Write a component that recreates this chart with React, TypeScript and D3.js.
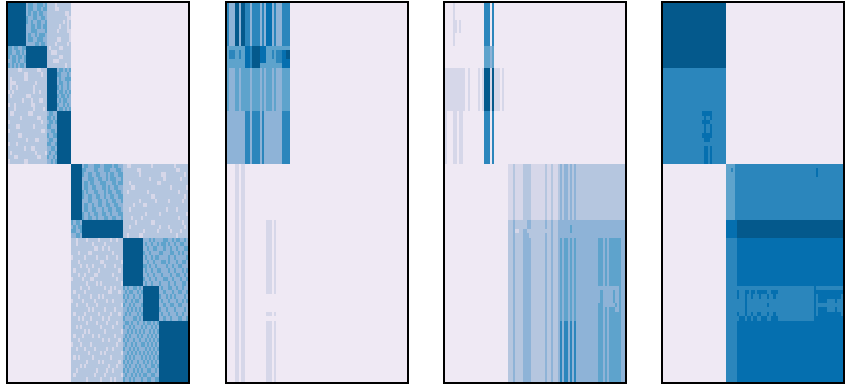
import React from 'react';
import * as d3 from 'd3';

// grid size of every heatmap
const N_ROWS = 87;
const N_COLS = 88;

// discrete colour levels, background first
const levelColors = ['#efe9f4', '#d6d7e9', '#b5c6df', '#8eb3d7', '#5ea3cc', '#2b86bc', '#056faf', '#04598c'];

// [rowStart, rowEnd, colStart, colEnd, level], painted in order
const panelOneBlocks = [
  [0, 10, 0, 9, 7], [0, 10, 9, 19, 3], [0, 10, 19, 31, 2],
  [10, 15, 0, 9, 3], [10, 15, 9, 19, 7], [10, 15, 19, 31, 2],
  [15, 25, 0, 19, 2], [15, 25, 19, 24, 7], [15, 25, 24, 31, 3],
  [25, 37, 0, 19, 2], [25, 37, 19, 24, 3], [25, 37, 24, 31, 7],
  [37, 50, 31, 36, 7], [37, 50, 36, 56, 3], [37, 50, 56, 88, 2],
  [50, 54, 31, 36, 3], [50, 54, 36, 56, 7], [50, 54, 56, 88, 2],
  [54, 65, 31, 56, 2], [54, 65, 56, 66, 7], [54, 65, 66, 88, 3],
  [65, 73, 31, 56, 2], [65, 73, 56, 66, 3], [65, 73, 66, 74, 7], [65, 73, 74, 88, 3],
  [73, 87, 31, 56, 2], [73, 87, 56, 74, 3], [73, 87, 74, 88, 7],
];

// cells per row in panel one that sit one step away from their block
const panelOneSpeckle = [
  [10, 11, 14, 15, 16, 18, 23],
  [10, 11, 14, 15, 17, 18, 23, 24],
  [10, 12, 13, 15, 16, 28, 29],
  [9, 12, 13, 16, 17, 29, 30],
  [9, 11, 14, 15, 18, 27, 29],
  [11, 12, 14, 15, 17, 18, 25, 29],
  [11, 12, 13, 18, 24, 29, 30],
  [10, 13, 15, 16, 17, 30],
  [10, 11, 14, 15, 16, 24, 25, 30],
  [13, 14, 16, 17, 23, 29],
  [0, 1, 3, 4, 7, 8, 20, 25, 26],
  [0, 1, 4, 5, 7, 21, 22, 23],
  [0, 2, 3, 5, 6, 8, 25, 26],
  [2, 3, 5, 8, 22, 23, 24],
  [0, 2, 4, 6, 7, 28],
  [5, 6, 14, 15, 25, 26, 28, 30],
  [8, 9, 16, 24, 25, 29],
  [1, 8, 9, 25, 28, 29, 30],
  [1, 2, 3, 13, 25, 26, 29],
  [1, 4, 12, 24, 26, 29],
  [0, 2, 12, 15, 25, 26, 28, 30],
  [1, 9, 10, 24, 26, 27, 29],
  [7, 11, 15, 16, 25, 27, 28],
  [0, 3, 11, 12, 24, 27, 29],
  [3, 12, 17, 25, 26, 28, 30],
  [1, 2, 10, 11, 20, 21],
  [6, 14, 15, 19, 20, 22],
  [0, 16, 21, 20, 23],
  [4, 5, 12, 19, 20],
  [0, 16, 17, 21, 22],
  [5, 6, 19, 22, 23],
  [9, 13, 14, 20, 21],
  [0, 4, 19, 20, 23],
  [8, 11, 12, 21, 22],
  [1, 13, 18, 20, 23],
  [3, 4, 14, 15, 19, 22],
  [0, 8, 9, 21, 23],
  [37, 38, 42, 43, 44, 47, 48, 49, 50, 52, 53, 58, 59, 70, 81],
  [36, 37, 42, 43, 47, 48, 49, 53, 54, 63, 64, 82, 83],
  [36, 39, 40, 43, 44, 48, 50, 51, 54, 55, 64, 75, 76, 86],
  [39, 40, 41, 44, 45, 48, 50, 51, 52, 55, 69, 76, 84],
  [37, 38, 40, 41, 45, 46, 47, 51, 52, 54, 55, 59, 73, 74],
  [37, 38, 41, 42, 46, 47, 49, 52, 53, 60, 61, 79, 87],
  [36, 38, 42, 43, 47, 49, 50, 53, 54, 58, 68, 83],
  [36, 39, 40, 43, 44, 47, 50, 51, 54, 55, 70, 71, 86],
  [39, 40, 44, 45, 48, 51, 52, 55, 64, 72, 78, 85],
  [37, 38, 41, 44, 45, 48, 49, 52, 53, 61, 66, 67],
  [37, 38, 41, 42, 46, 49, 50, 53, 54, 59, 77, 82],
  [36, 39, 42, 43, 46, 47, 50, 54, 55, 67, 74, 87],
  [36, 39, 40, 43, 47, 48, 51, 52, 55, 60, 65, 83],
  [31, 33, 34, 62, 70, 71, 85],
  [32, 34, 35, 59, 74, 78, 86],
  [31, 32, 35, 66, 73, 79, 84],
  [33, 34, 58, 64, 65, 82],
  [33, 38, 44, 50, 53, 69, 71, 76, 77, 80, 82, 83, 86],
  [33, 41, 47, 67, 70, 73, 75, 76, 78, 81, 84, 85],
  [42, 43, 46, 49, 68, 71, 72, 76, 79, 82, 86, 87],
  [34, 39, 40, 51, 66, 69, 74, 75, 79, 80, 83, 85],
  [31, 37, 43, 48, 53, 67, 70, 72, 73, 78, 81, 87],
  [34, 45, 46, 55, 68, 71, 75, 76, 78, 82, 85, 86],
  [35, 38, 41, 47, 52, 66, 67, 69, 72, 77, 80, 83, 84],
  [32, 39, 44, 54, 67, 70, 73, 74, 78, 81, 85, 87],
  [34, 37, 42, 43, 51, 68, 71, 75, 79, 82, 83, 86],
  [31, 36, 40, 41, 53, 66, 69, 72, 76, 77, 80, 84, 87],
  [38, 43, 45, 55, 67, 70, 74, 78, 81, 85, 86],
  [35, 39, 47, 50, 52, 56, 58, 61, 62, 64, 75, 78, 79, 82, 85],
  [32, 37, 49, 50, 54, 57, 59, 60, 63, 65, 76, 80, 83, 84, 87],
  [34, 40, 44, 46, 56, 58, 61, 64, 74, 77, 79, 81, 86],
  [31, 36, 42, 48, 51, 57, 60, 62, 63, 75, 78, 82, 85, 87],
  [33, 38, 43, 55, 56, 59, 61, 65, 76, 79, 80, 83, 84],
  [39, 41, 47, 52, 58, 60, 62, 64, 74, 77, 81, 86],
  [32, 37, 44, 50, 54, 57, 59, 63, 65, 75, 78, 82, 85],
  [34, 36, 40, 46, 49, 56, 61, 62, 64, 76, 79, 83, 84, 87],
  [38, 43, 48, 53, 57, 58, 60, 63, 66, 68, 69, 71, 73],
  [33, 35, 45, 51, 56, 59, 61, 65, 67, 70, 72],
  [37, 39, 47, 55, 58, 60, 62, 64, 66, 69, 71, 73],
  [32, 36, 41, 44, 52, 57, 59, 63, 65, 68, 70, 72],
  [34, 46, 49, 54, 56, 58, 61, 64, 67, 69, 71, 73],
  [31, 35, 40, 53, 57, 60, 62, 65, 66, 68, 70, 72],
  [33, 37, 42, 48, 51, 56, 59, 61, 63, 67, 69, 71, 73],
  [39, 45, 47, 55, 58, 60, 62, 64, 66, 68, 70, 72],
  [32, 34, 41, 50, 57, 59, 61, 65, 67, 69, 71, 73],
  [38, 44, 46, 54, 56, 58, 60, 63, 66, 68, 70, 72],
  [35, 37, 49, 53, 57, 59, 62, 64, 67, 70, 71, 73],
  [33, 43, 48, 51, 56, 58, 61, 63, 65, 68, 69, 72],
  [32, 42, 47, 55, 57, 60, 62, 64, 66, 67, 70, 71],
  [38, 45, 50, 52, 56, 59, 61, 65, 68, 69, 72, 73],
];

// panel two: stripes follow the same row groups as panel one
const panelTwoBlocks = [
  [0, 10, 0, 31, 3],
  [0, 10, 0, 1, 5], [0, 10, 4, 6, 7], [0, 10, 7, 9, 7], [0, 10, 9, 11, 5], [0, 10, 12, 16, 5],
  [0, 10, 17, 18, 5], [0, 10, 19, 22, 6], [0, 10, 23, 24, 5], [0, 10, 27, 31, 5],
  [10, 15, 0, 31, 4],
  [11, 13, 1, 4, 5], [11, 13, 6, 7, 5], [10, 15, 9, 11, 6], [10, 15, 11, 12, 5], [10, 15, 12, 16, 7],
  [10, 14, 16, 19, 6], [11, 13, 22, 23, 5], [11, 14, 24, 27, 5], [11, 15, 27, 31, 6], [11, 13, 29, 31, 7],
  [15, 25, 0, 31, 4],
  [15, 25, 1, 4, 3], [15, 25, 6, 7, 3], [15, 25, 11, 12, 3], [15, 25, 16, 17, 3], [15, 25, 18, 19, 3],
  [15, 25, 22, 23, 3], [15, 25, 24, 27, 3],
  [25, 37, 0, 31, 3],
  [25, 37, 9, 11, 5], [25, 37, 12, 16, 5], [25, 37, 17, 18, 5], [25, 37, 27, 31, 5],
  [37, 87, 4, 6, 1], [37, 87, 7, 9, 1],
  [50, 67, 19, 22, 1], [50, 67, 23, 24, 1], [71, 72, 19, 22, 1], [71, 72, 23, 24, 1],
  [73, 87, 19, 22, 1], [73, 87, 23, 24, 1],
];

// panel three, upper left group and lower right group
const panelThreeBlocks = [
  [0, 10, 4, 5, 1], [4, 6, 5, 6, 1], [6, 7, 5, 6, 1], [4, 6, 7, 8, 1], [6, 7, 7, 8, 1],
  [0, 10, 19, 22, 5], [0, 10, 23, 24, 5],
  [10, 15, 19, 22, 4], [10, 15, 22, 23, 3], [10, 15, 23, 24, 4],
  [15, 25, 0, 10, 1], [15, 25, 11, 12, 1], [15, 25, 16, 17, 1], [15, 25, 18, 19, 1], [15, 25, 22, 23, 1],
  [15, 25, 24, 27, 1], [15, 25, 28, 29, 1], [15, 25, 19, 22, 7], [15, 25, 23, 24, 7],
  [25, 37, 0, 1, 1], [25, 37, 4, 6, 1], [25, 37, 7, 9, 1], [25, 37, 19, 22, 5], [25, 37, 23, 24, 5],
  [37, 50, 31, 56, 1], [37, 50, 56, 88, 2],
  [50, 54, 31, 56, 2], [50, 54, 56, 88, 3],
  [54, 87, 31, 56, 2], [54, 87, 56, 88, 3],
];

const lowerLeftStripes = [33, 38, 39, 40, 41, 49, 52, 55];
const lowerMidStripes = [56, 58, 59, 61, 63];
const lowerRightStripes = [75, 76, 78, 80, 81, 82, 83, 84, 85];

// [row, colStart, colEnd, level] holes inside the lower right stripes
const panelThreeHoles = [
  [50, 36, 40, 2], [50, 42, 49, 2], [51, 38, 40, 2], [51, 42, 44, 2], [52, 34, 36, 1], [52, 40, 50, 2],
  [53, 41, 44, 2], [51, 61, 62, 4], [52, 61, 62, 4],
  [65, 75, 85, 3], [66, 75, 76, 3], [67, 75, 76, 3], [68, 75, 76, 3], [66, 78, 79, 3], [67, 78, 79, 3],
  [68, 78, 79, 3], [66, 80, 82, 3], [67, 80, 82, 3], [68, 80, 82, 3], [69, 77, 83, 3], [66, 83, 85, 3],
  [67, 83, 85, 3], [68, 83, 85, 3], [69, 84, 85, 3], [70, 83, 85, 3],
];

const panelFourBlocks = [
  [0, 15, 0, 31, 7], [15, 37, 0, 31, 5],
  [25, 26, 19, 24, 6], [26, 27, 20, 21, 6], [26, 27, 23, 24, 6], [27, 28, 19, 23, 6], [28, 30, 20, 21, 6],
  [28, 30, 23, 24, 6], [30, 31, 19, 24, 6], [31, 32, 20, 23, 6], [33, 37, 20, 22, 6], [33, 37, 23, 24, 6],
  [37, 50, 31, 35, 4], [37, 50, 35, 88, 5], [40, 49, 34, 35, 4], [38, 39, 33, 34, 5], [38, 40, 75, 76, 6],
  [50, 54, 31, 36, 6], [50, 54, 36, 88, 7],
  [54, 87, 31, 36, 5], [54, 65, 36, 88, 6], [65, 73, 36, 88, 5], [73, 87, 36, 88, 6],
  [65, 73, 74, 75, 6], [66, 73, 75, 88, 6],
  [67, 72, 75, 76, 5], [67, 72, 87, 88, 5], [68, 71, 80, 84, 5], [68, 71, 85, 87, 5], [69, 70, 76, 87, 5],
];

// [row, colStart, colEnd] cells of the darker level in panel four's mixed band
const panelFourDark = [
  [66, 36, 37], [66, 40, 42], [66, 43, 45], [66, 46, 51], [66, 53, 56],
  [67, 36, 37], [67, 40, 41], [67, 43, 44], [67, 47, 48], [67, 51, 52], [67, 54, 55],
  [68, 40, 41], [69, 40, 41], [69, 51, 52], [70, 40, 41],
  [71, 36, 37], [71, 40, 41], [71, 43, 44], [71, 46, 48], [71, 51, 52], [71, 54, 55],
  [72, 37, 40], [72, 41, 43], [72, 44, 46], [72, 48, 51], [72, 53, 56],
];

const panelLeft = [8, 227, 445, 663];

type Grid = number[][];

const paint = (grid: Grid, blocks: number[][]) => {
  blocks.forEach(([r0, r1, c0, c1, level]) => {
    for (let r = r0; r < r1; r++) for (let c = c0; c < c1; c++) grid[r][c] = level;
  });
};

const emptyGrid = (): Grid => d3.range(N_ROWS).map(() => d3.range(N_COLS).map(() => 0));

const buildPanelOne = () => {
  const grid = emptyGrid();
  paint(grid, panelOneBlocks);
  panelOneSpeckle.forEach((cols, r) => {
    cols.forEach((c) => {
      if (grid[r][c] === 2) grid[r][c] = 1;
      else if (grid[r][c] === 3) grid[r][c] = 4;
    });
  });
  return grid;
};

const buildPanelTwo = () => {
  const grid = emptyGrid();
  paint(grid, panelTwoBlocks);
  return grid;
};

const buildPanelThree = () => {
  const grid = emptyGrid();
  paint(grid, panelThreeBlocks);
  for (let r = 37; r < N_ROWS; r++) {
    lowerLeftStripes.forEach((c) => { grid[r][c] += 1; });
    lowerMidStripes.forEach((c) => { grid[r][c] += r < 50 ? 1 : r < 54 ? 0 : r < 73 ? 1 : 2; });
    if (r >= 54) lowerRightStripes.forEach((c) => { grid[r][c] += 1; });
  }
  panelThreeHoles.forEach(([r, c0, c1, level]) => {
    for (let c = c0; c < c1; c++) grid[r][c] = level;
  });
  return grid;
};

const buildPanelFour = () => {
  const grid = emptyGrid();
  paint(grid, panelFourBlocks);
  panelFourDark.forEach(([r, c0, c1]) => {
    for (let c = c0; c < c1; c++) grid[r][c] = 6;
  });
  return grid;
};

const Heatmap = ({ grid, left }: { grid: Grid; left: number }) => {
  const x = d3.scaleLinear().domain([0, N_COLS]).range([left, left + 180]);
  const y = d3.scaleLinear().domain([0, N_ROWS]).range([3, 382]);
  const color = d3.scaleOrdinal<number, string>().domain(levelColors.map((_, i) => i)).range(levelColors);

  const runs: { r: number; c0: number; c1: number; level: number }[] = [];
  grid.forEach((row, r) => {
    let c0 = 0;
    for (let c = 1; c <= N_COLS; c++) {
      if (c === N_COLS || row[c] !== row[c0]) {
        runs.push({ r, c0, c1: c, level: row[c0] });
        c0 = c;
      }
    }
  });

  return (
    <g shapeRendering="crispEdges">
      {runs.map((d) => (
        <rect
          key={`${d.r}-${d.c0}`}
          x={Math.round(x(d.c0))}
          y={Math.floor(y(d.r))}
          width={Math.round(x(d.c1)) - Math.round(x(d.c0))}
          height={Math.floor(y(d.r + 1)) - Math.floor(y(d.r))}
          fill={color(d.level)}
        />
      ))}
      <rect x={left - 1} y={2} width={182} height={381} fill="none" stroke="#000" strokeWidth={2} />
    </g>
  );
};

export default function App() {
  const grids = [buildPanelOne(), buildPanelTwo(), buildPanelThree(), buildPanelFour()];
  return (
    <svg width={851} height={390} style={{ position: 'absolute', left: 0, top: 0, background: '#fff' }}>
      {grids.map((grid, i) => (
        <Heatmap key={i} grid={grid} left={panelLeft[i]} />
      ))}
    </svg>
  );
}
